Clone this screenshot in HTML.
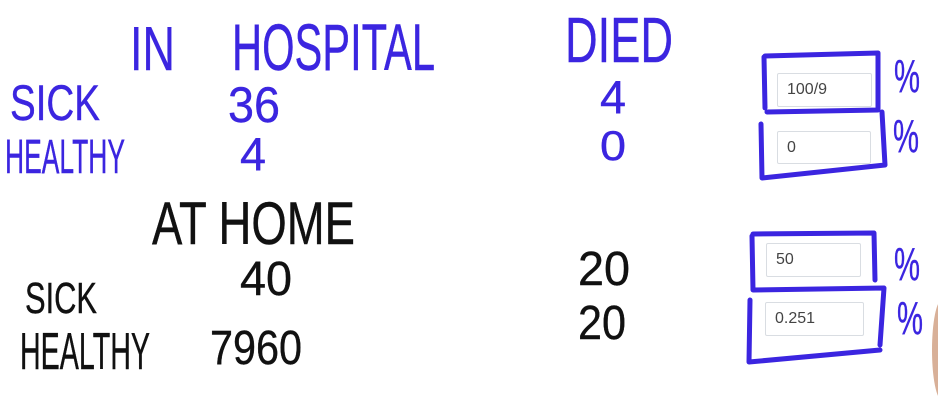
<!DOCTYPE html>
<html><head><meta charset="utf-8"><style>
html,body{margin:0;padding:0;background:#fff;width:938px;height:410px;overflow:hidden}
svg{display:block}
.b{fill:#3b25e0;stroke:#3b25e0;stroke-width:0.4;font-family:"Liberation Sans",sans-serif}
.k{fill:#111;stroke:#111;stroke-width:0.4;font-family:"Liberation Sans",sans-serif}
.box{fill:none;stroke:#3b25e0;stroke-width:5;stroke-linejoin:round;stroke-linecap:round}
.inp{position:absolute;background:#fff;border:1px solid #d9dde2;border-radius:2px;font-family:"Liberation Sans",sans-serif;font-size:16px;color:#444;box-sizing:border-box;padding:0 9px;display:flex;align-items:center}
</style></head><body>
<div style="position:relative;width:938px;height:410px">
<svg width="938" height="410">
<text class="b" x="130" y="70" font-size="62" textLength="45" lengthAdjust="spacingAndGlyphs">IN</text>
<text class="b" x="232" y="70" font-size="66" textLength="203" lengthAdjust="spacingAndGlyphs">HOSPITAL</text>
<text class="b" x="565" y="62" font-size="64" textLength="108" lengthAdjust="spacingAndGlyphs">DIED</text>
<text class="b" x="10" y="120" font-size="50" textLength="90" lengthAdjust="spacingAndGlyphs">SICK</text>
<text class="b" x="228" y="122" font-size="50" textLength="52" lengthAdjust="spacingAndGlyphs">36</text>
<text class="b" x="600" y="113" font-size="46" textLength="26" lengthAdjust="spacingAndGlyphs">4</text>
<text class="b" x="5" y="173" font-size="48" textLength="120" lengthAdjust="spacingAndGlyphs">HEALTHY</text>
<text class="b" x="240" y="170" font-size="46" textLength="26" lengthAdjust="spacingAndGlyphs">4</text>
<text class="b" x="600" y="160" font-size="42" textLength="26" lengthAdjust="spacingAndGlyphs">0</text>
<text class="k" x="152" y="244" font-size="60" textLength="203" lengthAdjust="spacingAndGlyphs">AT HOME</text>
<text class="k" x="240" y="295" font-size="48" textLength="52" lengthAdjust="spacingAndGlyphs">40</text>
<text class="k" x="578" y="285" font-size="48" textLength="52" lengthAdjust="spacingAndGlyphs">20</text>
<text class="k" x="25" y="313" font-size="44" textLength="72" lengthAdjust="spacingAndGlyphs">SICK</text>
<text class="k" x="578" y="339" font-size="48" textLength="48" lengthAdjust="spacingAndGlyphs">20</text>
<text class="k" x="20" y="369" font-size="52" textLength="130" lengthAdjust="spacingAndGlyphs">HEALTHY</text>
<text class="k" x="210" y="364" font-size="48" textLength="92" lengthAdjust="spacingAndGlyphs">7960</text>
<path class="box" d="M765 56 L878 53 L878 110 L767 112 M764 57 L765 108"/>
<path class="box" d="M761 124 L762 178 L885 165 L882 112"/>
<path class="box" d="M753 234 L874 233 L875 280 M752 236 L753 290 L884 288 L880 345"/>
<path class="box" d="M750 300 L749 362 L880 350"/>
<text class="b" x="894" y="92" font-size="46" textLength="26" lengthAdjust="spacingAndGlyphs">%</text>
<text class="b" x="893" y="152" font-size="46" textLength="26" lengthAdjust="spacingAndGlyphs">%</text>
<text class="b" x="894" y="280" font-size="46" textLength="26" lengthAdjust="spacingAndGlyphs">%</text>
<text class="b" x="897" y="334" font-size="46" textLength="26" lengthAdjust="spacingAndGlyphs">%</text>
<ellipse cx="942" cy="350" rx="10" ry="50" fill="#d8b098"/>
</svg>
<div class="inp" style="left:777px;top:73px;width:95px;height:34px">100/9</div>
<div class="inp" style="left:777px;top:131px;width:94px;height:33px">0</div>
<div class="inp" style="left:766px;top:243px;width:95px;height:34px">50</div>
<div class="inp" style="left:765px;top:302px;width:99px;height:34px">0.251</div>
</div>
</body></html>
